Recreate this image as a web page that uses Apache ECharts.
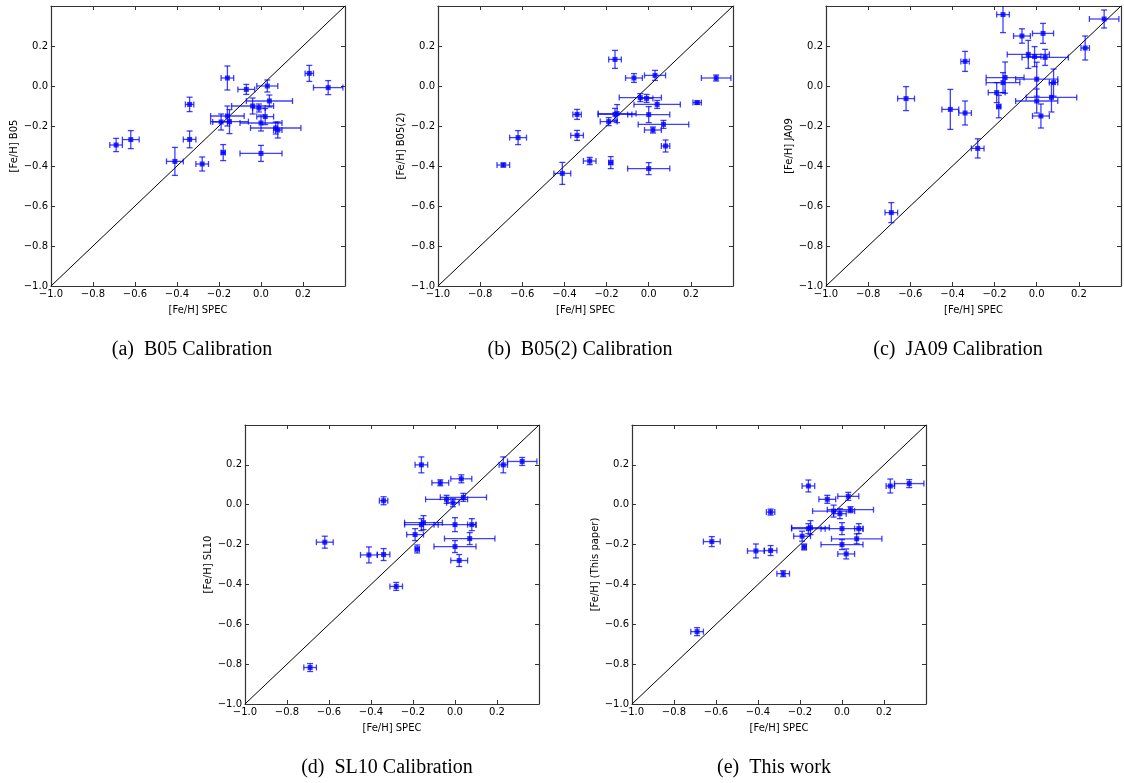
<!DOCTYPE html>
<html>
<head>
<meta charset="utf-8">
<script src="https://cdn.jsdelivr.net/npm/echarts@6/dist/echarts.min.js"></script>
<style>
html,body{margin:0;padding:0;background:#fff;}
#chart{width:1124px;height:783px;}
</style>
</head>
<body>
<div id="chart"></div>
<script>
// Shared spectroscopic [Fe/H] (x) and its error
const specX   = [-0.69,-0.62,-0.41,-0.34,-0.34,-0.28,-0.19,-0.18,-0.16,-0.16,-0.15,-0.07,-0.04,-0.01,0.00,0.00,0.02,0.03,0.04,0.07,0.08,0.23,0.32];
const specErr = [0.03,0.04,0.04,0.02,0.03,0.03,0.04,0.01,0.03,0.08,0.09,0.04,0.10,0.03,0.10,0.10,0.04,0.05,0.11,0.12,0.02,0.02,0.07];

// Panel (a) B05
const b05Y   = [-0.295,-0.268,-0.377,-0.092,-0.267,-0.39,-0.18,-0.333,0.04,-0.15,-0.178,-0.017,-0.10,-0.11,-0.185,-0.337,-0.153,0.0,-0.075,-0.21,-0.22,0.063,-0.008];
const b05Err = [0.033,0.045,0.07,0.036,0.042,0.035,0.04,0.04,0.06,0.05,0.06,0.025,0.04,0.02,0.04,0.04,0.04,0.03,0.03,0.03,0.04,0.04,0.035];
// Panel (b) B05(2)
const b052Y   = [-0.395,-0.258,-0.437,-0.142,-0.247,-0.375,-0.178,-0.383,0.133,-0.142,-0.138,0.04,-0.058,-0.062,-0.143,-0.413,-0.22,0.053,-0.092,-0.192,-0.30,-0.083,0.04];
const b052Err = [0.01,0.035,0.055,0.025,0.025,0.018,0.02,0.03,0.045,0.03,0.045,0.022,0.02,0.02,0.04,0.03,0.015,0.025,0.02,0.02,0.03,0.008,0.015];
// Panel (c) JA09
const ja09Y   = [-0.633,-0.063,-0.117,0.123,-0.135,-0.312,-0.033,-0.103,0.357,0.017,0.042,0.25,0.158,0.147,0.034,-0.075,-0.15,0.263,0.143,-0.057,0.017,0.19,0.335];
const ja09Err = [0.05,0.06,0.1,0.05,0.06,0.048,0.05,0.056,0.09,0.05,0.078,0.036,0.07,0.05,0.085,0.06,0.06,0.05,0.04,0.073,0.068,0.06,0.045];
// Panel (d) SL10
const sl10Y   = [-0.817,-0.188,-0.252,0.02,-0.25,-0.41,-0.15,-0.222,0.2,-0.1,-0.09,0.11,0.027,0.01,-0.1,-0.21,-0.28,0.13,0.037,-0.17,-0.1,0.2,0.217];
const sl10Err = [0.02,0.03,0.04,0.02,0.03,0.02,0.03,0.02,0.04,0.03,0.035,0.015,0.02,0.02,0.035,0.03,0.03,0.02,0.02,0.03,0.03,0.04,0.02];
// Panel (e) This work
const thisY   = [-0.637,-0.185,-0.232,-0.037,-0.23,-0.346,-0.158,-0.212,0.094,-0.12,-0.115,0.027,-0.032,-0.045,-0.12,-0.2,-0.247,0.042,-0.025,-0.171,-0.12,0.094,0.106];
const thisErr = [0.02,0.025,0.035,0.015,0.025,0.015,0.025,0.015,0.03,0.025,0.035,0.02,0.03,0.025,0.03,0.025,0.025,0.02,0.015,0.025,0.025,0.035,0.02];

const yNames = ['[Fe/H] B05','[Fe/H] B05(2)','[Fe/H] JA09','[Fe/H] SL10','[Fe/H] (This paper)'];
const captions = ['(a)  B05 Calibration','(b)  B05(2) Calibration','(c)  JA09 Calibration','(d)  SL10 Calibration','(e)  This work'];
const xName = '[Fe/H] SPEC';
const axisMin = -1.0, axisMax = 0.4, axisStep = 0.2;

const panelY = [b05Y, b052Y, ja09Y, sl10Y, thisY];
const panelErr = [b05Err, b052Err, ja09Err, sl10Err, thisErr];

const grids = [
  {left:51, top:6, width:294, height:280},
  {left:438, top:6, width:295, height:280},
  {left:826, top:6, width:295, height:280},
  {left:245, top:425, width:294, height:279},
  {left:632, top:425, width:294, height:279}
];
const capPos = [[192,350],[580,350],[958,350],[387,768],[774,768]];

const fmt = v => {
  if (v > 0.3) return '';
  if (Math.abs(v) < 1e-9) return '0.0';
  return v.toFixed(1).replace('-', '\u2212');
};
const tickFont = {fontFamily:'DejaVu Sans', fontSize:10, color:'#000'};
const lineStyle = {color:'#333', width:1.2};

const xAxes = [], yAxes = [], series = [], graphics = [];
grids.forEach((g, i) => {
  const base = {min:axisMin, max:axisMax, interval:axisStep, gridIndex:i, type:'value',
    splitLine:{show:false}, axisLine:{show:true, onZero:false, lineStyle},
    axisTick:{show:true, inside:true, length:4, lineStyle:{color:'#333', width:1}}};
  xAxes.push(Object.assign({}, base, {position:'bottom',
    axisLabel:Object.assign({formatter:fmt, margin:3, showMaxLabel:true}, tickFont),
    name:xName, nameLocation:'middle', nameGap:19,
    nameTextStyle:{fontFamily:'DejaVu Sans', fontSize:10, color:'#000'}}));
  xAxes.push(Object.assign({}, base, {position:'top', axisLabel:{show:false}}));
  yAxes.push(Object.assign({}, base, {position:'left',
    axisLabel:Object.assign({formatter:fmt, margin:3}, tickFont),
    name:yNames[i], nameLocation:'middle', nameGap:32, nameRotate:90,
    nameTextStyle:{fontFamily:'DejaVu Sans', fontSize:10, color:'#000'}}));
  yAxes.push(Object.assign({}, base, {position:'right', axisLabel:{show:false}}));

  const errData = specX.map((x, k) => [x, panelY[i][k], specErr[k], panelErr[i][k]]);
  const ptData = specX.map((x, k) => [x, panelY[i][k]]);

  series.push({
    type:'line', xAxisIndex:2*i, yAxisIndex:2*i, data:[[axisMin,axisMin],[axisMax,axisMax]],
    symbol:'none', lineStyle:{color:'#000', width:1}, silent:true, animation:false, z:1
  });
  series.push({
    type:'custom', xAxisIndex:2*i, yAxisIndex:2*i, data:errData, clip:true, animation:false, z:2,
    encode:{x:0, y:1},
    renderItem:(params, api) => {
      const x = api.value(0), y = api.value(1), ex = api.value(2), ey = api.value(3);
      const l = api.coord([x-ex, y]), r = api.coord([x+ex, y]);
      const t = api.coord([x, y+ey]), b = api.coord([x, y-ey]);
      const c = 3;
      const st = {stroke:'rgba(0,0,255,0.75)', lineWidth:1.3};
      const ln = (x1,y1,x2,y2) => ({type:'line', shape:{x1,y1,x2,y2}, style:st});
      return {type:'group', children:[
        ln(l[0],l[1],r[0],r[1]), ln(l[0],l[1]-c,l[0],l[1]+c), ln(r[0],r[1]-c,r[0],r[1]+c),
        ln(t[0],t[1],b[0],b[1]), ln(t[0]-c,t[1],t[0]+c,t[1]), ln(b[0]-c,b[1],b[0]+c,b[1])
      ]};
    }
  });
  series.push({
    type:'scatter', xAxisIndex:2*i, yAxisIndex:2*i, data:ptData, symbol:'rect', symbolSize:5,
    itemStyle:{color:'#0000ff'}, animation:false, z:3, clip:true
  });
  graphics.push({type:'text', x:capPos[i][0], y:capPos[i][1],
    style:{text:captions[i], fontFamily:'Liberation Serif', fontSize:20, fill:'#000', align:'center', verticalAlign:'middle'}});
});

const chart = echarts.init(document.getElementById('chart'), null, {renderer:'canvas'});
chart.setOption({
  animation:false,
  backgroundColor:'#fff',
  grid: grids,
  xAxis: xAxes,
  yAxis: yAxes,
  series: series,
  graphic: graphics
});
</script>
</body>
</html>
